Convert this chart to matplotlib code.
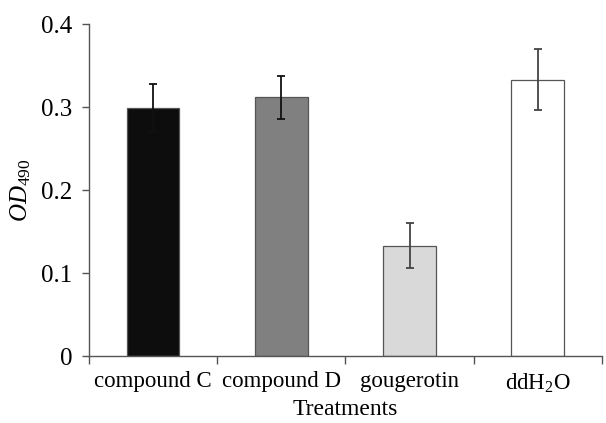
import matplotlib
matplotlib.use("Agg")
import matplotlib.pyplot as plt
import numpy as np

categories = ["compound C", "compound D", "gougerotin", r"ddH$_2$O"]
values = [0.299, 0.312, 0.133, 0.333]
errors = [0.029, 0.026, 0.027, 0.037]
colors = ["#0d0d0d", "#808080", "#d9d9d9", "#ffffff"]
err_colors = ["#111111", "#111111", "#444444", "#444444"]
yticks = [0, 0.1, 0.2, 0.3, 0.4]
ytick_labels = ["0", "0.1", "0.2", "0.3", "0.4"]

plt.rcParams['font.family'] = 'Liberation Serif'
plt.rcParams['mathtext.fontset'] = 'custom'
plt.rcParams['mathtext.rm'] = 'Liberation Serif'
plt.rcParams['mathtext.it'] = 'Liberation Serif:italic'

fig = plt.figure(figsize=(6.06, 4.23), dpi=100)
ax = fig.add_axes([0.147, 0.158, 0.846, 0.785])

x = np.arange(len(categories))
ax.bar(x, values, width=0.41, color=colors, edgecolor="#555555", linewidth=0.9, zorder=2)
for xi, v, e, c in zip(x, values, errors, err_colors):
    ax.errorbar([xi], [v], yerr=[e], fmt="none", ecolor=c, elinewidth=1.3,
                capsize=3, capthick=1.3, zorder=3)

ax.set_xlim(-0.5, len(categories) - 0.5)
ax.set_ylim(0, 0.4)
ax.set_yticks(yticks)
ax.set_yticklabels(ytick_labels, fontsize=18)
ax.set_xticks(x)
ax.set_xticklabels(categories, fontsize=16.5)
ax.set_xticks(np.arange(len(categories) + 1) - 0.5, minor=True)
ax.tick_params(axis='x', which='major', length=0, pad=11)
ax.tick_params(axis='x', which='minor', length=6, direction='out', color="#555555", width=1)
ax.tick_params(axis='y', length=5, direction='out', color="#555555", width=1, pad=7)

for s in ["top", "right"]:
    ax.spines[s].set_visible(False)
for s in ["left", "bottom"]:
    ax.spines[s].set_color("#555555")
    ax.spines[s].set_linewidth(1)

ax.set_xlabel("Treatments", fontsize=17, labelpad=3)
ax.set_ylabel(r"$\mathit{OD}_{\mathrm{490}}$", fontsize=18, labelpad=6)

fig.savefig("out.png", dpi=100)
